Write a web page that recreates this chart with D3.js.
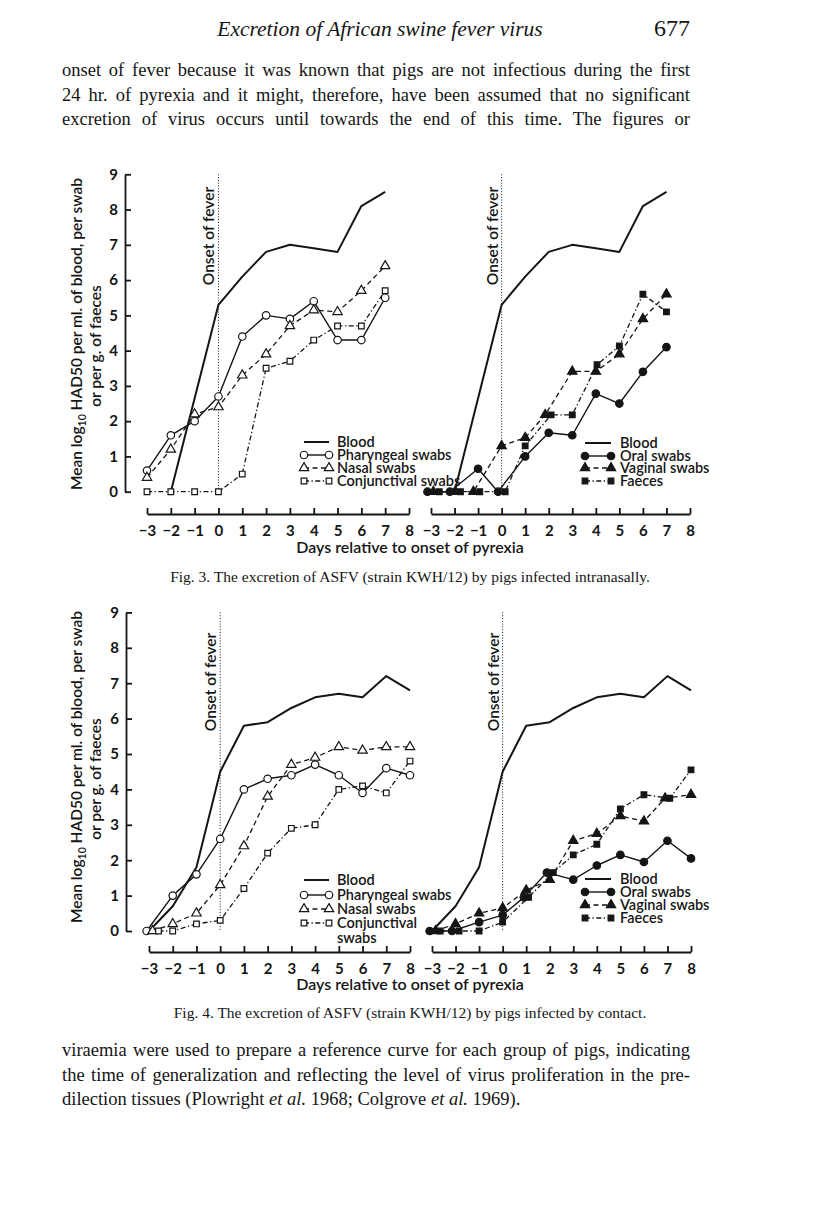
<!DOCTYPE html>
<html>
<head>
<meta charset="utf-8">
<script src="https://cdn.jsdelivr.net/npm/d3@7"></script>
<style>
  body { margin: 0; background: #fff; }
  svg { display: block; }
</style>
</head>
<body>
<svg id="page" width="816" height="1213"></svg>
<script>
// ---- data ----
const dayTicks = [-3, -2, -1, 0, 1, 2, 3, 4, 5, 6, 7, 8];
const valueTicks = [0, 1, 2, 3, 4, 5, 6, 7, 8, 9];

// Fig. 3 – infected intranasally
const fig3BloodDays = [-2, 0, 1, 2, 3, 4, 5, 6, 7];
const fig3Blood = [0, 5.3, 6.1, 6.8, 7.0, 6.9, 6.8, 8.1, 8.5];
const fig3Days = [-3, -2, -1, 0, 1, 2, 3, 4, 5, 6, 7];
const fig3Pharyngeal = [0.6, 1.6, 2.0, 2.7, 4.4, 5.0, 4.9, 5.4, 4.3, 4.3, 5.5];
const fig3Nasal = [0.4, 1.2, 2.2, 2.4, 3.3, 3.9, 4.7, 5.15, 5.1, 5.7, 6.4];
const fig3Conjunctival = [0, 0, 0, 0, 0.5, 3.5, 3.7, 4.3, 4.7, 4.7, 5.7];
const fig3OralDays = [-3.15, -2.2, -1, -0.15, 1, 2, 3, 4, 5, 6, 7];
const fig3Oral = [0, 0, 0.65, 0, 1.0, 1.67, 1.6, 2.78, 2.5, 3.4, 4.1];
const fig3VaginalDays = [-2.9, -1.97, -1.2, 0, 1, 1.85, 3, 4, 5, 6, 7];
const fig3Vaginal = [0, 0, 0, 1.3, 1.53, 2.18, 3.41, 3.41, 3.9, 4.9, 5.6];
const fig3FaecesDays = [-2.65, -1.75, -0.93, 0.15, 1, 2.1, 3, 4.05, 5, 6, 7];
const fig3Faeces = [0, 0, 0, 0, 1.3, 2.18, 2.18, 3.6, 4.13, 5.6, 5.1];

// Fig. 4 – infected by contact
const fig4Days = [-3, -2, -1, 0, 1, 2, 3, 4, 5, 6, 7, 8];
const fig4Blood = [0, 0.7, 1.8, 4.5, 5.8, 5.9, 6.3, 6.6, 6.7, 6.6, 7.2, 6.8];
const fig4PharyngealDays = [-3.1, -2, -1, 0, 1, 2, 3, 4, 5, 6, 7, 8];
const fig4Pharyngeal = [0, 1.0, 1.6, 2.6, 4.0, 4.3, 4.4, 4.7, 4.4, 3.9, 4.6, 4.4];
const fig4NasalDays = [-2.85, -2, -1, 0, 1, 2, 3, 4, 5, 6, 7, 8];
const fig4Nasal = [0, 0.2, 0.5, 1.3, 2.4, 3.8, 4.7, 4.9, 5.2, 5.1, 5.2, 5.2];
const fig4ConjunctivalDays = [-2.6, -2, -1, 0, 1, 2, 3, 4, 5, 6, 7, 8];
const fig4Conjunctival = [0, 0, 0.2, 0.3, 1.2, 2.2, 2.9, 3.0, 4.0, 4.1, 3.9, 4.8];
const fig4OralDays = [-3.1, -2.15, -1, 0, 0.9, 1.88, 3, 4, 5, 6, 7, 8];
const fig4Oral = [0, 0, 0.25, 0.45, 0.95, 1.65, 1.45, 1.85, 2.15, 1.95, 2.55, 2.05];
const fig4VaginalDays = [-2.85, -2, -1, 0, 1, 2, 3, 4, 5, 6, 6.9, 8];
const fig4Vaginal = [0, 0.2, 0.5, 0.65, 1.15, 1.45, 2.55, 2.75, 3.25, 3.1, 3.75, 3.85];
const fig4FaecesDays = [-2.65, -1.85, -1, 0, 1.1, 2.15, 3, 4, 5, 6, 7.1, 8];
const fig4Faeces = [0, 0, 0, 0.25, 0.95, 1.65, 2.15, 2.45, 3.45, 3.85, 3.75, 4.55];

const headerTitle = "Excretion of African swine fever virus";
const pageNumber = "677";
const topLines = [
  "onset of fever because it was known that pigs are not infectious during the first",
  "24 hr. of pyrexia and it might, therefore, have been assumed that no significant",
  "excretion of virus occurs until towards the end of this time. The figures or"
];
const fig3Caption = "Fig. 3. The excretion of ASFV (strain KWH/12) by pigs infected intranasally.";
const fig4Caption = "Fig. 4. The excretion of ASFV (strain KWH/12) by pigs infected by contact.";
const yTitle1 = ["Mean log", "10", " HAD50 per ml. of blood, per swab"];
const yTitle2 = "or per g. of faeces";
const xTitle = "Days relative to onset of pyrexia";
const onsetLabel = "Onset of fever";

// ---- styles ----
const INK = "#151515";
const SANS = "Lato, 'Open Sans', sans-serif";
const SERIF = "'Liberation Serif', 'Times New Roman', serif";
const styles = {
  blood: { dash: null, width: 2 },
  solid: { dash: null, width: 1.4 },
  dashed: { dash: "5,3.5", width: 1.3 },
  dashdot: { dash: "5,2.5,1.3,2.5", width: 1.3 }
};
const shapes = { circle: d3.symbolCircle, triangle: d3.symbolTriangle, square: d3.symbolSquare };
const shapeSize = { circle: 44, triangle: 38, square: 32 };

const svg = d3.select("#page");

function zip(days, vals) { return days.map((d, i) => ({ day: d, v: vals[i] })); }

function marker(g, shape, filled, cx, cy) {
  g.append("path")
    .attr("d", d3.symbol().type(shapes[shape]).size(shapeSize[shape])())
    .attr("transform", `translate(${cx},${cy})`)
    .attr("fill", filled ? INK : "#fff")
    .attr("stroke", INK)
    .attr("stroke-width", 1.2);
}

function drawPanel(p) {
  const x = d3.scaleLinear().domain([-3, 8]).range(p.xr);
  const y = d3.scaleLinear().domain([0, 9]).range(p.yr);
  const g = svg.append("g");

  // onset of fever
  g.append("line")
    .attr("x1", x(0)).attr("x2", x(0))
    .attr("y1", y(9)).attr("y2", y(0))
    .attr("stroke", INK).attr("stroke-width", 1).attr("stroke-dasharray", "1,1.8");
  g.append("text")
    .attr("transform", `translate(${x(0) - 4},${p.onsetY}) rotate(-90)`)
    .attr("text-anchor", "middle")
    .attr("font-family", SANS).attr("font-size", 15.5).attr("font-weight", 600).attr("fill", INK)
    .text(onsetLabel);

  if (p.yAxis) {
    const ya = g.append("g")
      .attr("transform", `translate(${p.yAxisX},0)`)
      .call(d3.axisLeft(y).tickValues(valueTicks).tickSizeInner(-6).tickSizeOuter(0).tickPadding(7));
    ya.selectAll("text").attr("font-family", SANS).attr("font-size", 15).attr("font-weight", 700).attr("fill", INK);
    ya.selectAll("path,line").attr("stroke", INK).attr("stroke-width", 1.8);
  }

  const xa = g.append("g")
    .attr("transform", `translate(0,${p.xAxisY})`)
    .call(d3.axisBottom(x).tickValues(dayTicks).tickSizeInner(-6).tickSizeOuter(0).tickPadding(11));
  xa.selectAll("text").attr("font-family", SANS).attr("font-size", 15).attr("font-weight", 700).attr("fill", INK);
  xa.selectAll("path,line").attr("stroke", INK).attr("stroke-width", 1.8);

  const line = d3.line().x(d => x(d.day)).y(d => y(d.v));
  p.series.forEach(s => {
    const st = styles[s.style];
    g.append("path")
      .datum(zip(s.days, s.vals))
      .attr("d", line)
      .attr("fill", "none")
      .attr("stroke", INK)
      .attr("stroke-width", st.width)
      .attr("stroke-dasharray", st.dash)
      .attr("stroke-linejoin", "round");
  });
  p.series.filter(s => s.shape).forEach(s => {
    zip(s.days, s.vals).forEach(d => marker(g, s.shape, s.filled, x(d.day), y(d.v)));
  });

  // legend
  p.series.forEach((s, i) => {
    const ly = p.legend.rows[i];
    const st = styles[s.style];
    const x0 = p.legend.x0, x1 = p.legend.x1;
    g.append("line")
      .attr("x1", x0).attr("x2", x1).attr("y1", ly).attr("y2", ly)
      .attr("stroke", INK).attr("stroke-width", st.width)
      .attr("stroke-dasharray", st.dash);
    if (s.shape) {
      marker(g, s.shape, s.filled, x0, ly);
      marker(g, s.shape, s.filled, x1, ly);
    }
    s.label.split("\n").forEach((t, k) => {
      g.append("text")
        .attr("x", p.legend.tx).attr("y", ly + 5 + k * 15)
        .attr("font-family", SANS).attr("font-size", 14.5).attr("font-weight", 600).attr("fill", INK)
        .text(t);
    });
  });
}

const fig3Left = [
  { label: "Blood", days: fig3BloodDays, vals: fig3Blood, style: "blood" },
  { label: "Pharyngeal swabs", days: fig3Days, vals: fig3Pharyngeal, style: "solid", shape: "circle", filled: false },
  { label: "Nasal swabs", days: fig3Days, vals: fig3Nasal, style: "dashed", shape: "triangle", filled: false },
  { label: "Conjunctival swabs", days: fig3Days, vals: fig3Conjunctival, style: "dashdot", shape: "square", filled: false }
];
const fig3Right = [
  { label: "Blood", days: fig3BloodDays, vals: fig3Blood, style: "blood" },
  { label: "Oral swabs", days: fig3OralDays, vals: fig3Oral, style: "solid", shape: "circle", filled: true },
  { label: "Vaginal swabs", days: fig3VaginalDays, vals: fig3Vaginal, style: "dashed", shape: "triangle", filled: true },
  { label: "Faeces", days: fig3FaecesDays, vals: fig3Faeces, style: "dashdot", shape: "square", filled: true }
];
const fig4Left = [
  { label: "Blood", days: fig4Days, vals: fig4Blood, style: "blood" },
  { label: "Pharyngeal swabs", days: fig4PharyngealDays, vals: fig4Pharyngeal, style: "solid", shape: "circle", filled: false },
  { label: "Nasal swabs", days: fig4NasalDays, vals: fig4Nasal, style: "dashed", shape: "triangle", filled: false },
  { label: "Conjunctival\nswabs", days: fig4ConjunctivalDays, vals: fig4Conjunctival, style: "dashdot", shape: "square", filled: false }
];
const fig4Right = [
  { label: "Blood", days: fig4Days, vals: fig4Blood, style: "blood" },
  { label: "Oral swabs", days: fig4OralDays, vals: fig4Oral, style: "solid", shape: "circle", filled: true },
  { label: "Vaginal swabs", days: fig4VaginalDays, vals: fig4Vaginal, style: "dashed", shape: "triangle", filled: true },
  { label: "Faeces", days: fig4FaecesDays, vals: fig4Faeces, style: "dashdot", shape: "square", filled: true }
];

drawPanel({ xr: [147, 409], yr: [491.7, 174.3], yAxis: true, yAxisX: 125, xAxisY: 514, onsetY: 236,
  series: fig3Left, legend: { x0: 304, x1: 329, tx: 337, rows: [442, 455, 468, 481] } });
drawPanel({ xr: [431, 690], yr: [491.7, 174.3], yAxis: false, xAxisY: 514, onsetY: 236,
  series: fig3Right, legend: { x0: 585, x1: 611, tx: 620, rows: [443, 456, 468, 481] } });
drawPanel({ xr: [149, 410], yr: [931, 612.4], yAxis: true, yAxisX: 126, xAxisY: 952, onsetY: 682,
  series: fig4Left, legend: { x0: 304, x1: 329, tx: 337, rows: [880, 895, 909, 923] } });
drawPanel({ xr: [432, 691], yr: [931, 612.4], yAxis: false, xAxisY: 952, onsetY: 682,
  series: fig4Right, legend: { x0: 585, x1: 611, tx: 620, rows: [879, 892, 905, 918] } });

// axis titles
[{ cy: 334, xt: 410, yt: 553 }, { cy: 767, xt: 410, yt: 990 }].forEach(a => {
  const t1 = svg.append("text")
    .attr("transform", `translate(82,${a.cy}) rotate(-90)`)
    .attr("text-anchor", "middle")
    .attr("font-family", SANS).attr("font-size", 15.5).attr("font-weight", 600).attr("fill", INK);
  t1.append("tspan").text(yTitle1[0]);
  t1.append("tspan").attr("font-size", 10.5).attr("dy", 4).text(yTitle1[1]);
  t1.append("tspan").attr("dy", -4).text(yTitle1[2]);
  svg.append("text")
    .attr("transform", `translate(101,${a.cy + 12}) rotate(-90)`)
    .attr("text-anchor", "middle")
    .attr("font-family", SANS).attr("font-size", 15.5).attr("font-weight", 600).attr("fill", INK)
    .text(yTitle2);
  svg.append("text")
    .attr("x", a.xt).attr("y", a.yt)
    .attr("text-anchor", "middle")
    .attr("font-family", SANS).attr("font-size", 16).attr("font-weight", 600).attr("fill", INK)
    .text(xTitle);
});

// page text
svg.append("text").attr("x", 380).attr("y", 36).attr("text-anchor", "middle")
  .attr("font-family", SERIF).attr("font-style", "italic").attr("font-size", 21.5).attr("fill", INK)
  .text(headerTitle);
svg.append("text").attr("x", 690).attr("y", 36).attr("text-anchor", "end")
  .attr("font-family", SERIF).attr("font-size", 24).attr("fill", INK)
  .text(pageNumber);

// justify a text line to a width by stretching only the word gaps
function justify(t, width) {
  const natural = t.node().getComputedTextLength();
  const gaps = (t.text().match(/ /g) || []).length;
  if (gaps) t.attr("word-spacing", (width - natural) / gaps);
}

topLines.forEach((s, i) => {
  const t = svg.append("text").attr("x", 62).attr("y", 76 + i * 24.5)
    .attr("font-family", SERIF).attr("font-size", 18.5).attr("fill", INK)
    .text(s);
  justify(t, 628);
});

svg.append("text").attr("x", 410).attr("y", 582).attr("text-anchor", "middle")
  .attr("font-family", SERIF).attr("font-size", 15.5).attr("fill", INK)
  .text(fig3Caption);
svg.append("text").attr("x", 410).attr("y", 1018).attr("text-anchor", "middle")
  .attr("font-family", SERIF).attr("font-size", 15.5).attr("fill", INK)
  .text(fig4Caption);

const bottomLines = [
  [["viraemia were used to prepare a reference curve for each group of pigs, indicating", false]],
  [["the time of generalization and reflecting the level of virus proliferation in the pre-", false]],
  [["dilection tissues (Plowright ", false], ["et al.", true], [" 1968; Colgrove ", false], ["et al.", true], [" 1969).", false]]
];
bottomLines.forEach((parts, i) => {
  const t = svg.append("text").attr("x", 62).attr("y", 1056 + i * 24.5)
    .attr("font-family", SERIF).attr("font-size", 18.5).attr("fill", INK)
    .attr("xml:space", "preserve");
  parts.forEach(([s, it]) => t.append("tspan").attr("font-style", it ? "italic" : null).text(s));
  if (i < 2) justify(t, 628);
});
</script>
</body>
</html>
